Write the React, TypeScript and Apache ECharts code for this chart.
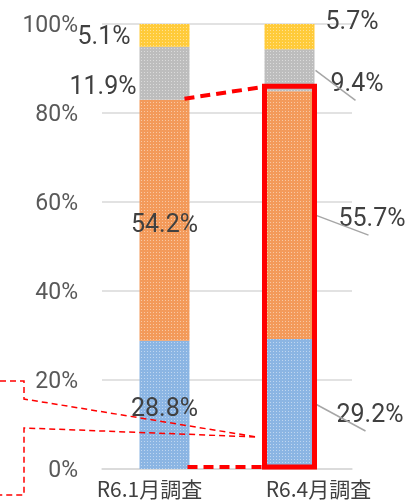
import React, { useEffect, useRef } from "react";
import * as echarts from "echarts";

const categories = ["R6.1月調査", "R6.4月調査"];
const blueValues = [28.8, 29.2];
const orangeValues = [54.2, 55.7];
const grayValues = [11.9, 9.4];
const yellowValues = [5.1, 5.7];
const yTicks = [0, 20, 40, 60, 80, 100];

const seriesDefs = [
  { name: "blue", values: blueValues, color: "#8BB5E3" },
  { name: "orange", values: orangeValues, color: "#F39A5A" },
  { name: "gray", values: grayValues, color: "#BDBDBD" },
  { name: "yellow", values: yellowValues, color: "#FFCB3A" },
];

// label placement per series (index) and per category (index)
const labelPlacement: any[][] = [
  [
    { position: "inside", offset: [0, 3] },
    { position: "right", distance: 22, offset: [0, 9] },
  ],
  [
    { position: "inside", offset: [0, 3] },
    { position: "right", distance: 24, offset: [0, 2] },
  ],
  [
    { position: "left", distance: 3, offset: [0, 12] },
    { position: "right", distance: 16, offset: [0, 12] },
  ],
  [
    { position: "left", distance: 9, offset: [0, 0] },
    { position: "right", distance: 11, offset: [0, -16] },
  ],
];

export default function App() {
  const ref = useRef<HTMLDivElement>(null);
  useEffect(() => {
    if (!ref.current) return;
    const chart = echarts.init(ref.current, null, { renderer: "svg" });
    const series = seriesDefs.map((d, s) => ({
      type: "bar",
      name: d.name,
      stack: "total",
      barWidth: "40%",
      itemStyle: {
        color: d.color,
        decal: {
          symbol: "rect",
          symbolSize: 1,
          color: "rgba(255,255,255,0.45)",
          dashArrayX: [1, 2],
          dashArrayY: [1, 2],
          rotation: 0,
        },
      },
      data: d.values.map((v, i) => ({
        value: v,
        label: {
          show: true,
          formatter: v.toFixed(1) + "%",
          color: "#404040",
          fontSize: 25,
          fontFamily: "Roboto",
          ...labelPlacement[s][i],
        },
      })),
    }));
    chart.setOption({
      animation: false,
      aria: { enabled: false, decal: { show: true } },
      grid: { left: 102, right: 54, top: 24, bottom: 33 },
      xAxis: {
        type: "category",
        data: categories,
        axisLine: { show: true, lineStyle: { color: "#D9D9D9", width: 1.5 } },
        axisTick: { show: false },
        axisLabel: {
          margin: 8,
          formatter: (v: string, i: number) => (i === 0 ? "{a|" + v + "}" : "{b|" + v + "}"),
          rich: {
            a: {
              fontSize: 21,
              color: "#404040",
              fontFamily: "Noto Sans CJK JP",
              padding: [0, 30, 0, 0],
            },
            b: {
              fontSize: 21,
              color: "#404040",
              fontFamily: "Noto Sans CJK JP",
              padding: [0, 0, 0, 58],
            },
          },
        },
      },
      yAxis: {
        type: "value",
        min: yTicks[0],
        max: yTicks[yTicks.length - 1],
        interval: yTicks[1] - yTicks[0],
        axisLine: { show: false },
        axisTick: { show: false },
        splitLine: { lineStyle: { color: "#D9D9D9", width: 1.5 } },
        axisLabel: {
          formatter: "{value}%",
          fontSize: 23,
          color: "#595959",
          fontFamily: "Roboto",
          margin: 24,
        },
      },
      series,
    });

    const px = (cat: number, val: number) =>
      chart.convertToPixel({ gridIndex: 0 }, [cat, val]) as number[];
    const barHalf = 25;
    const graphics: any[] = [];

    // leader lines for the second bar
    const leaders = [
      { s: 2, dx: 40, dy: 30 },
      { s: 1, dx: 53, dy: 20 },
      { s: 0, dx: 50, dy: 27 },
    ];
    leaders.forEach((l) => {
      let base = 0;
      for (let k = 0; k < l.s; k++) base += seriesDefs[k].values[1];
      const mid = base + seriesDefs[l.s].values[1] / 2;
      const p = px(1, mid);
      const x1 = p[0] + barHalf + 1;
      graphics.push({
        type: "line",
        z: 50,
        shape: { x1, y1: p[1], x2: x1 + l.dx, y2: p[1] + l.dy },
        style: { stroke: "#A6A6A6", lineWidth: 1.5 },
      });
    });

    // red frame around blue+orange of second bar
    const top2 = px(1, blueValues[1] + orangeValues[1]);
    const zero2 = px(1, 0);
    graphics.push({
      type: "rect",
      z: 60,
      shape: {
        x: zero2[0] - barHalf,
        y: top2[1] - 5,
        width: barHalf * 2,
        height: zero2[1] - 2 - (top2[1] - 5),
      },
      style: { fill: "none", stroke: "#FF0000", lineWidth: 5 },
    });

    // thick red dashed connectors
    const top1 = px(0, blueValues[0] + orangeValues[0]);
    const zero1 = px(0, 0);
    graphics.push({
      type: "line",
      z: 60,
      shape: { x1: top1[0] + barHalf - 5, y1: top1[1] - 1, x2: zero2[0] - barHalf - 3, y2: top2[1] - 4 },
      style: { stroke: "#FF0000", lineWidth: 4, lineDash: [10, 6] },
    });
    graphics.push({
      type: "line",
      z: 60,
      shape: { x1: zero1[0] + barHalf - 2, y1: zero1[1] - 2, x2: zero2[0] - barHalf - 3, y2: zero2[1] - 2 },
      style: { stroke: "#FF0000", lineWidth: 4, lineDash: [10, 6] },
    });

    // partial callout from the left
    graphics.push({
      type: "polyline",
      z: 60,
      shape: {
        points: [
          [0, 381],
          [24, 381],
          [24, 399],
          [257, 437],
          [25, 428],
          [24, 428],
          [24, 495],
          [0, 495],
        ],
      },
      style: { stroke: "#FF0000", lineWidth: 1.5, lineDash: [6, 4], fill: "none" },
    });

    chart.setOption({ graphic: graphics });
    return () => chart.dispose();
  }, []);
  return (
    <div
      ref={ref}
      style={{ position: "fixed", left: 0, top: 0, width: 406, height: 502 }}
    />
  );
}
